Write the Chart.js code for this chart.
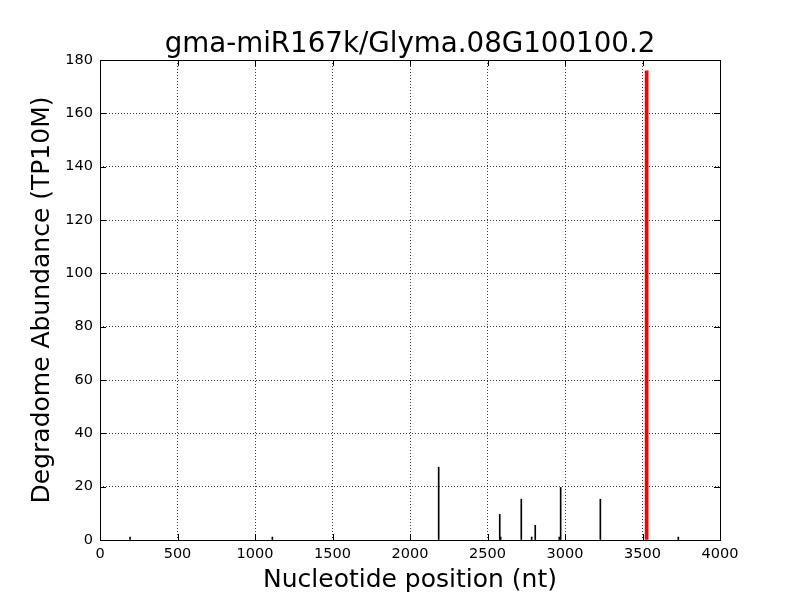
<!DOCTYPE html>
<html>
<head>
<meta charset="utf-8">
<script src="https://cdn.jsdelivr.net/npm/chart.js@4"></script>
<style>
  html, body { margin: 0; padding: 0; background: #fff; }
  #wrap { width: 800px; height: 600px; }
</style>
</head>
<body>
<div id="wrap"><canvas id="chart" width="800" height="600"></canvas></div>
<script>
// Degradome reads (black) and the cleavage site (red)
const positions = [194, 1112, 2185, 2579, 2585, 2718, 2785, 2808, 2963, 2972, 3228, 3731];
const abundance = [1.1, 1.1, 27.3, 9.6, 1.1, 15.3, 1.1, 5.5, 1.1, 19.7, 15.3, 1.1];
const sitePositions = [3527];
const siteAbundance = [175.9];

const chartTitle = 'gma-miR167k/Glyma.08G100100.2';
const xLabel = 'Nucleotide position (nt)';
const yLabel = 'Degradome Abundance (TP10M)';

const FONT = 'DejaVu Sans';

function toPoints(xs, ys) {
  return xs.map((x, i) => ({ x: x, y: ys[i] }));
}

/**
 * Draws the matplotlib-style frame and inward ticks on all four sides.
 */
const framePlugin = {
  id: 'frame',
  afterDraw(chart) {
    const { ctx, chartArea: a, scales } = chart;
    const len = 6;
    ctx.save();
    ctx.strokeStyle = '#000';
    ctx.lineWidth = 1;
    ctx.beginPath();
    scales.x.ticks.forEach(t => {
      const px = Math.round(scales.x.getPixelForValue(t.value)) + 0.5;
      ctx.moveTo(px, a.bottom); ctx.lineTo(px, a.bottom - len);
      ctx.moveTo(px, a.top); ctx.lineTo(px, a.top + len);
    });
    scales.y.ticks.forEach(t => {
      const py = Math.round(scales.y.getPixelForValue(t.value)) + 0.5;
      ctx.moveTo(a.left, py); ctx.lineTo(a.left + len, py);
      ctx.moveTo(a.right, py); ctx.lineTo(a.right - len, py);
    });
    ctx.stroke();
    ctx.strokeRect(Math.round(a.left) + 0.5, Math.round(a.top) + 0.5,
      Math.round(a.right - a.left), Math.round(a.bottom - a.top));
    ctx.restore();
  }
};

new Chart(document.getElementById('chart'), {
  type: 'bar',
  data: {
    datasets: [
      {
        data: toPoints(positions, abundance),
        backgroundColor: '#000',
        barThickness: 1,
        grouped: false
      },
      {
        data: toPoints(sitePositions, siteAbundance),
        backgroundColor: '#ff0000',
        barThickness: 3,
        grouped: false
      }
    ]
  },
  options: {
    responsive: false,
    animation: false,
    layout: { padding: { left: 20, right: 0, top: 0, bottom: 0 } },
    plugins: {
      legend: { display: false },
      tooltip: { enabled: false },
      title: {
        display: true,
        text: chartTitle,
        color: '#000',
        font: { family: FONT, size: 27.7, weight: 'normal', lineHeight: 1.0 },
        padding: { top: 31, bottom: 1.3 }
      }
    },
    scales: {
      x: {
        type: 'linear',
        min: 0,
        max: 4000,
        offset: false,
        ticks: {
          stepSize: 500,
          color: '#000',
          padding: 6,
          maxRotation: 0,
          font: { family: FONT, size: 14.5 },
          callback: v => String(v)
        },
        grid: { color: 'rgba(0,0,0,0.75)', drawTicks: false, offset: false },
        border: { display: false, dash: [1, 2] },
        title: {
          display: true,
          text: xLabel,
          color: '#000',
          font: { family: FONT, size: 25 },
          padding: { top: 0, bottom: 5 }
        },
        afterFit(scale) { scale.height = 60; }
      },
      y: {
        min: 0,
        max: 180,
        ticks: {
          stepSize: 20,
          color: '#000',
          padding: 7,
          font: { family: FONT, size: 14.5 }
        },
        grid: { color: 'rgba(0,0,0,0.75)', drawTicks: false },
        border: { display: false, dash: [1, 2] },
        title: {
          display: true,
          text: yLabel,
          color: '#000',
          font: { family: FONT, size: 25 },
          padding: { top: 7, bottom: 0 }
        },
        afterFit(scale) { scale.width = 80; }
      },
      // empty right-hand axis, only reserves the margin right of the frame
      yRight: {
        type: 'linear',
        position: 'right',
        min: 0,
        max: 180,
        ticks: { display: false },
        grid: { display: false, drawTicks: false },
        border: { display: false },
        afterFit(scale) { scale.width = 80; }
      }
    }
  },
  plugins: [framePlugin]
});
</script>
</body>
</html>
